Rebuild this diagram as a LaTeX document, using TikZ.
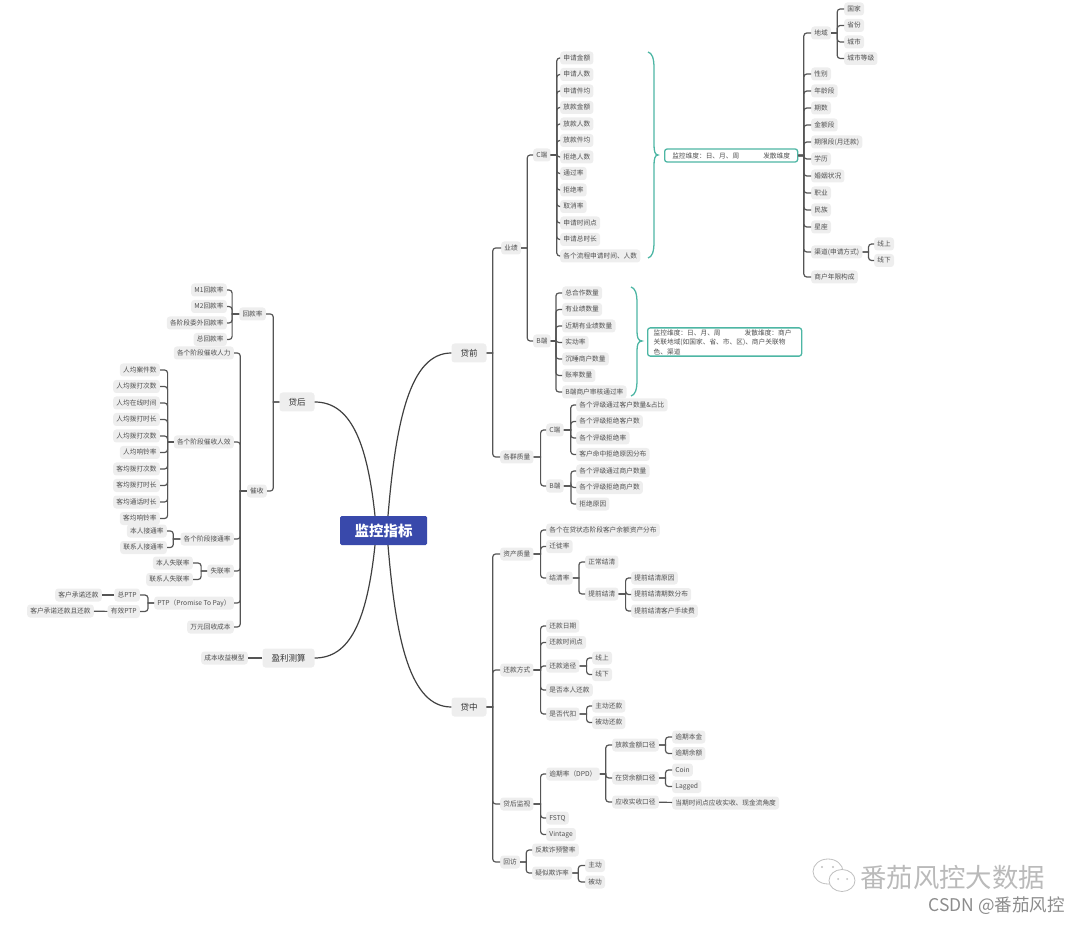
\documentclass[tikz,border=0pt]{standalone}
\usepackage{fontspec}
\usepackage{xcolor}
\usepackage{tikz}
\usetikzlibrary{positioning,calc}
\setmainfont{Noto Sans CJK SC}
\definecolor{RootBlue}{HTML}{3949AB}
\definecolor{SoftGray}{HTML}{EEEEEE}
\definecolor{LineGray}{HTML}{555555}
\definecolor{TextGray}{HTML}{505050}
\definecolor{NoteTeal}{HTML}{4DB6A4}

\begin{document}
\begin{tikzpicture}[
    x=1pt,y=-1pt,
    root/.style={rectangle,rounded corners=1.5pt,fill=RootBlue,text=white,minimum width=87pt,minimum height=29pt,font=\fontsize{14.5}{16}\selectfont\bfseries},
    topic/.style={rectangle,rounded corners=3pt,fill=SoftGray,text=black!80,minimum height=19pt,inner xsep=9pt,font=\fontsize{8.5}{10}\selectfont},
    leaf/.style={rectangle,rounded corners=3pt,fill=SoftGray,text=TextGray,inner xsep=3.2pt,inner ysep=2.75pt,text height=6pt,text depth=1.5pt,font=\fontsize{6.7}{8}\selectfont},
    rleaf/.style={leaf,anchor=west},
    lleaf/.style={leaf,anchor=east},
    note/.style={rectangle,rounded corners=2.5pt,draw=NoteTeal,line width=1.3pt,fill=white,text=TextGray,anchor=west,align=left,font=\fontsize{6.7}{9.5}\selectfont},
    under/.style={below=3.1pt of #1.south west,anchor=north west},
    underl/.style={below=3.1pt of #1.south east,anchor=north east},
    link/.style={draw=LineGray,line width=1.2pt},
    curve/.style={draw=black!75,line width=1.2pt},
    rlink/.style={link,to path={(\tikztostart.east) -- ([xshift=#1]\tikztostart.east) [rounded corners=3pt] |- (\tikztotarget.west)}},
    rlink/.default=7pt,
    llink/.style={link,to path={(\tikztostart.west) -- ([xshift=-#1]\tikztostart.west) [rounded corners=3pt] |- (\tikztotarget.east)}},
    llink/.default=7pt,
    brace/.style={draw=NoteTeal,line width=1.3pt}
]
\useasboundingbox (0,0) rectangle (1080,925);
% centre and main topics
\node[root] (root) at (383.5,530.5) {监控指标};
\node[topic] (pre) at (469,353) {贷前};
\node[topic] (mid) at (469,707) {贷中};
\node[topic] (post) at (297,402) {贷后};
\node[topic] (profit) at (288.5,658) {盈利测算};
\draw[curve] ([xshift=4.5pt]root.north) .. controls +(8,-96) and +(-41,0) .. (pre.west);
\draw[curve] ([xshift=4.5pt]root.south) .. controls +(8,96) and +(-41,0) .. (mid.west);
\draw[curve] ([xshift=-8.5pt]root.north) .. controls +(-8,-76) and +(35,0) .. (post.east);
\draw[curve] ([xshift=-8.5pt]root.south) .. controls +(-8,76) and +(35,0) .. (profit.east);

% pre-loan
\node[rleaf] (perf) at (501,248) {业绩};
\node[rleaf] (group) at (500,457) {各群质量};
\draw[rlink=6pt] (pre) to (perf);
\draw[rlink=6pt] (pre) to (group);
\node[rleaf] (cside) at (533,155) {C端};
\node[rleaf] (bside) at (533,341) {B端};
\draw[rlink=6pt] (perf) to (cside);
\draw[rlink=6pt] (perf) to (bside);
\node[rleaf] (ca) at (560,58) {申请金额};
\node[rleaf,under=ca] (cb) {申请人数};
\node[rleaf,under=cb] (cc) {申请件均};
\node[rleaf,under=cc] (cd) {放款金额};
\node[rleaf,under=cd] (ce) {放款人数};
\node[rleaf,under=ce] (cf) {放款件均};
\node[rleaf,under=cf] (cg) {拒绝人数};
\node[rleaf,under=cg] (ch) {通过率};
\node[rleaf,under=ch] (ci) {拒绝率};
\node[rleaf,under=ci] (cj) {取消率};
\node[rleaf,under=cj] (ck) {申请时间点};
\node[rleaf,under=ck] (cl) {申请总时长};
\node[rleaf,under=cl] (cm) {各个流程申请时间、人数};
\draw[rlink=6pt] (cside) to (ca);
\draw[rlink=6pt] (cside) to (cb);
\draw[rlink=6pt] (cside) to (cc);
\draw[rlink=6pt] (cside) to (cd);
\draw[rlink=6pt] (cside) to (ce);
\draw[rlink=6pt] (cside) to (cf);
\draw[rlink=6pt] (cside) to (cg);
\draw[rlink=6pt] (cside) to (ch);
\draw[rlink=6pt] (cside) to (ci);
\draw[rlink=6pt] (cside) to (cj);
\draw[rlink=6pt] (cside) to (ck);
\draw[rlink=6pt] (cside) to (cl);
\draw[rlink=6pt] (cside) to (cm);
\node[rleaf] (ba) at (562,293) {总合作数量};
\node[rleaf,under=ba] (bb) {有业绩数量};
\node[rleaf,under=bb] (bc) {近期有业绩数量};
\node[rleaf,under=bc] (bd) {实动率};
\node[rleaf,under=bd] (be) {沉睡商户数量};
\node[rleaf,under=be] (bf) {账率数量};
\node[rleaf,under=bf] (bg) {B端商户审核通过率};
\draw[rlink=5pt] (bside) to (ba);
\draw[rlink=5pt] (bside) to (bb);
\draw[rlink=5pt] (bside) to (bc);
\draw[rlink=5pt] (bside) to (bd);
\draw[rlink=5pt] (bside) to (be);
\draw[rlink=5pt] (bside) to (bf);
\draw[rlink=5pt] (bside) to (bg);
% braces and their notes
\coordinate (ctop) at (648,52);
\coordinate (cbot) at (648,258);
\coordinate (ctip) at (658,155);
\draw[brace] (ctop) .. controls +(4,1) and (654,58) .. (654,68) -- (654,145) .. controls (654,151) and (655,155) .. (ctip) .. controls (655,155) and (654,159) .. (654,165) -- (654,242) .. controls (654,252) and (652,257) .. (cbot);
\coordinate (btop) at (631,287);
\coordinate (bbot) at (631,396);
\coordinate (btip) at (642,341);
\draw[brace] (btop) .. controls +(4,1) and (637,293) .. (637,303) -- (637,331) .. controls (637,337) and (638,341) .. (btip) .. controls (638,341) and (637,345) .. (637,351) -- (637,380) .. controls (637,390) and (635,395) .. (bbot);
\node[note,minimum width=133pt,minimum height=13pt,inner xsep=6pt,inner ysep=1pt] (cnote) at (664,155.5) {监控维度：日、月、周\hspace{24pt}发散维度};
\node[note,text width=142pt,inner xsep=6pt,inner ysep=1.5pt] (bnote) at (647,342) {监控维度：日、月、周\hspace{24pt}发散维度：商户\\关联地域(如国家、省、市、区)、商户关联物\\色、渠道};
% dimensions
\node[rleaf] (area) at (811,33) {地域};
\node[rleaf] (sex) at (811,74) {性别};
\node[rleaf] (age) at (811,91) {年龄段};
\node[rleaf] (term) at (811,108) {期数};
\node[rleaf] (amt) at (811,125) {金额段};
\node[rleaf] (span) at (811,142) {期限段(月还款)};
\node[rleaf] (edu) at (811,159) {学历};
\node[rleaf] (marry) at (811,176) {婚姻状况};
\node[rleaf] (job) at (811,193) {职业};
\node[rleaf] (nation) at (811,210) {民族};
\node[rleaf] (star) at (811,227) {星座};
\node[rleaf] (chan) at (811,252) {渠道(申请方式)};
\node[rleaf] (shop) at (811,277) {商户年限构成};
\draw[rlink=5.5pt] (cnote) to (area);
\draw[rlink=5.5pt] (cnote) to (sex);
\draw[rlink=5.5pt] (cnote) to (age);
\draw[rlink=5.5pt] (cnote) to (term);
\draw[rlink=5.5pt] (cnote) to (amt);
\draw[rlink=5.5pt] (cnote) to (span);
\draw[rlink=5.5pt] (cnote) to (edu);
\draw[rlink=5.5pt] (cnote) to (marry);
\draw[rlink=5.5pt] (cnote) to (job);
\draw[rlink=5.5pt] (cnote) to (nation);
\draw[rlink=5.5pt] (cnote) to (star);
\draw[rlink=5.5pt] (cnote) to (chan);
\draw[rlink=5.5pt] (cnote) to (shop);
\node[rleaf] (country) at (844,9) {国家};
\node[rleaf,under=country] (prov) {省份};
\node[rleaf,under=prov] (city) {城市};
\node[rleaf,under=city] (level) {城市等级};
\draw[rlink=6pt] (area) to (country);
\draw[rlink=6pt] (area) to (prov);
\draw[rlink=6pt] (area) to (city);
\draw[rlink=6pt] (area) to (level);
\node[rleaf] (online) at (874,244) {线上};
\node[rleaf,under=online] (offline) {线下};
\draw[rlink=6pt] (chan) to (online);
\draw[rlink=6pt] (chan) to (offline);
% customer quality
\node[rleaf] (gc) at (546,430) {C端};
\node[rleaf] (gb) at (546,486) {B端};
\draw[rlink=7pt] (group) to (gc);
\draw[rlink=7pt] (group) to (gb);
\node[rleaf] (gca) at (576,405) {各个评级通过客户数量\&占比};
\node[rleaf,under=gca] (gcb) {各个评级拒绝客户数};
\node[rleaf,under=gcb] (gcc) {各个评级拒绝率};
\node[rleaf,under=gcc] (gcd) {客户命中拒绝原因分布};
\node[rleaf,under=gcd] (gba) {各个评级通过商户数量};
\node[rleaf,under=gba] (gbb) {各个评级拒绝商户数};
\node[rleaf,under=gbb] (gbc) {拒绝原因};
\draw[rlink=7pt] (gc) to (gca);
\draw[rlink=7pt] (gc) to (gcb);
\draw[rlink=7pt] (gc) to (gcc);
\draw[rlink=7pt] (gc) to (gcd);
\draw[rlink=7pt] (gb) to (gba);
\draw[rlink=7pt] (gb) to (gbb);
\draw[rlink=7pt] (gb) to (gbc);

% in-loan
\node[rleaf] (asset) at (500,554) {资产质量};
\node[rleaf] (repay) at (500,670) {还款方式};
\node[rleaf] (watch) at (500,804) {贷后监视};
\node[rleaf] (visit) at (500,862) {回访};
\draw[rlink=6pt] (mid) to (asset);
\draw[rlink=6pt] (mid) to (repay);
\draw[rlink=6pt] (mid) to (watch);
\draw[rlink=6pt] (mid) to (visit);
\node[rleaf] (bal) at (546,530) {各个在贷状态阶段客户余额资产分布};
\node[rleaf,under=bal] (move) {迁徙率};
\node[rleaf] (settle) at (546,578) {结清率};
\draw[rlink=7pt] (asset) to (bal);
\draw[rlink=7pt] (asset) to (move);
\draw[rlink=7pt] (asset) to (settle);
\node[rleaf] (normal) at (585,562) {正常结清};
\node[rleaf] (early) at (585,594) {提前结清};
\draw[rlink=6pt] (settle) to (normal);
\draw[rlink=6pt] (settle) to (early);
\node[rleaf] (ea) at (631,578) {提前结清原因};
\node[rleaf,under=ea] (eb) {提前结清期数分布};
\node[rleaf,under=eb] (ec) {提前结清客户手续费};
\draw[rlink=7pt] (early) to (ea);
\draw[rlink=7pt] (early) to (eb);
\draw[rlink=7pt] (early) to (ec);
\node[rleaf] (rdate) at (546,626) {还款日期};
\node[rleaf,under=rdate] (rtime) {还款时间点};
\node[rleaf] (rway) at (546,666) {还款途径};
\node[rleaf] (rself) at (546,690) {是否本人还款};
\node[rleaf] (rauto) at (546,714) {是否代扣};
\draw[rlink=7pt] (repay) to (rdate);
\draw[rlink=7pt] (repay) to (rtime);
\draw[rlink=7pt] (repay) to (rway);
\draw[rlink=7pt] (repay) to (rself);
\draw[rlink=7pt] (repay) to (rauto);
\node[rleaf] (won) at (592,658) {线上};
\node[rleaf,under=won] (woff) {线下};
\draw[rlink=7pt] (rway) to (won);
\draw[rlink=7pt] (rway) to (woff);
\node[rleaf] (act) at (592,706) {主动还款};
\node[rleaf,under=act] (pas) {被动还款};
\draw[rlink=7pt] (rauto) to (act);
\draw[rlink=7pt] (rauto) to (pas);
\node[rleaf] (dpd) at (546,774) {逾期率（DPD）};
\node[rleaf] (fstq) at (546,818) {FSTQ};
\node[rleaf,under=fstq] (vint) {Vintage};
\draw[rlink=7pt] (watch) to (dpd);
\draw[rlink=7pt] (watch) to (fstq);
\draw[rlink=7pt] (watch) to (vint);
\node[rleaf] (dloan) at (612,745) {放款金额口径};
\node[rleaf] (dbal) at (612,778) {在贷余额口径};
\node[rleaf] (drecv) at (612,802) {应收实收口径};
\draw[rlink=6pt] (dpd) to (dloan);
\draw[rlink=6pt] (dpd) to (dbal);
\draw[rlink=6pt] (dpd) to (drecv);
\node[rleaf] (lprin) at (672,737) {逾期本金};
\node[rleaf,under=lprin] (lrem) {逾期余额};
\node[rleaf,under=lrem] (coin) {Coin};
\node[rleaf,under=coin] (lag) {Lagged};
\node[rleaf,under=lag] (cash) {当期时间点应收实收、现金流角度};
\draw[rlink=6.5pt] (dloan) to (lprin);
\draw[rlink=6.5pt] (dloan) to (lrem);
\draw[rlink=6.5pt] (dbal) to (coin);
\draw[rlink=6.5pt] (dbal) to (lag);
\draw[link] (drecv) -- (cash);
\node[rleaf] (vfraud) at (532,850) {反欺诈预警率};
\node[rleaf] (vsusp) at (532,873) {疑似欺诈率};
\draw[rlink=6pt] (visit) to (vfraud);
\draw[rlink=6pt] (visit) to (vsusp);
\node[rleaf] (vact) at (585,865.5) {主动};
\node[rleaf,under=vact] (vpas) {被动};
\draw[rlink=6pt] (vsusp) to (vact);
\draw[rlink=6pt] (vsusp) to (vpas);

% post-loan
\node[lleaf] (rate) at (266,314) {回款率};
\node[lleaf] (coll) at (267,491) {催收};
\draw[llink=6pt] (post) to (rate);
\draw[llink=6pt] (post) to (coll);
\node[lleaf] (mone) at (227,290) {M1回款率};
\node[lleaf,underl=mone] (mtwo) {M2回款率};
\node[lleaf,underl=mtwo] (mout) {各阶段委外回款率};
\node[lleaf,underl=mout] (mall) {总回款率};
\draw[llink=7pt] (rate) to (mone);
\draw[llink=7pt] (rate) to (mtwo);
\draw[llink=7pt] (rate) to (mout);
\draw[llink=7pt] (rate) to (mall);
\node[lleaf] (staff) at (234,353) {各个阶段催收人力};
\node[lleaf] (eff) at (234,442) {各个阶段催收人效};
\node[lleaf] (conn) at (234,539) {各个阶段接通率};
\node[lleaf] (lost) at (234,571) {失联率};
\node[lleaf] (ptp) at (234,603) {PTP（Promise To Pay）};
\node[lleaf] (cost) at (234,627) {万元回收成本};
\draw[llink=6.5pt] (coll) to (staff);
\draw[llink=6.5pt] (coll) to (eff);
\draw[llink=6.5pt] (coll) to (conn);
\draw[llink=6.5pt] (coll) to (lost);
\draw[llink=6.5pt] (coll) to (ptp);
\draw[llink=6.5pt] (coll) to (cost);
\node[lleaf] (effa) at (160,370) {人均案件数};
\node[lleaf,underl=effa] (effb) {人均拨打次数};
\node[lleaf,underl=effb] (effc) {人均在线时间};
\node[lleaf,underl=effc] (effd) {人均拨打时长};
\node[lleaf,underl=effd] (effe) {人均拨打次数};
\node[lleaf,underl=effe] (efff) {人均响铃率};
\node[lleaf,underl=efff] (effg) {客均拨打次数};
\node[lleaf,underl=effg] (effh) {客均拨打时长};
\node[lleaf,underl=effh] (effi) {客均通话时长};
\node[lleaf,underl=effi] (effj) {客均响铃率};
\draw[llink=6pt] (eff) to (effa);
\draw[llink=6pt] (eff) to (effb);
\draw[llink=6pt] (eff) to (effc);
\draw[llink=6pt] (eff) to (effd);
\draw[llink=6pt] (eff) to (effe);
\draw[llink=6pt] (eff) to (efff);
\draw[llink=6pt] (eff) to (effg);
\draw[llink=6pt] (eff) to (effh);
\draw[llink=6pt] (eff) to (effi);
\draw[llink=6pt] (eff) to (effj);
\node[lleaf] (cself) at (167,531) {本人接通率};
\node[lleaf,underl=cself] (cother) {联系人接通率};
\draw[llink=7pt] (conn) to (cself);
\draw[llink=7pt] (conn) to (cother);
\node[lleaf] (lself) at (193,563) {本人失联率};
\node[lleaf,underl=lself] (lother) {联系人失联率};
\draw[llink=6pt] (lost) to (lself);
\draw[llink=6pt] (lost) to (lother);
\node[lleaf] (ptotal) at (140,595) {总PTP};
\node[lleaf,underl=ptotal] (pvalid) {有效PTP};
\draw[llink=6pt] (ptp) to (ptotal);
\draw[llink=6pt] (ptp) to (pvalid);
\node[lleaf] (pa) at (102,595) {客户承诺还款};
\node[lleaf] (pb) at (94,611) {客户承诺还款且还款};
\draw[link] (ptotal) -- (pa);
\draw[link] (pvalid) -- (pb);

% profit
\node[lleaf] (model) at (248,658) {成本收益模型};
\draw[link] (profit) -- (model);

% watermark
\draw[black!25,line width=0.8pt] (828,871.5) ellipse (15 and 12.5);
\draw[black!25,line width=0.8pt,fill=white] (842,880.5) ellipse (13 and 11);
\fill[black!25] (822,867) circle (1.2) (833,867) circle (1.2) (838,879) circle (1) (847,879) circle (1);
\node[anchor=west,text=black!27,inner sep=0pt,font=\fontsize{26.4}{28}\selectfont] (brand) at (860,878) {番茄风控大数据};
\node[anchor=east,text=black!45,inner sep=0pt,font=\fontsize{17.5}{19}\selectfont] (csdn) at (1065,906) {CSDN @番茄风控};
\end{tikzpicture}
\end{document}
